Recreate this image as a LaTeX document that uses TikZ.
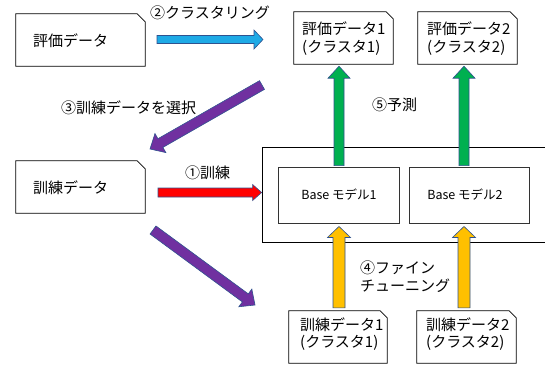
\documentclass[tikz,border=0pt]{standalone}
\usepackage{fontspec}
\setmainfont{Noto Sans CJK JP}
\usetikzlibrary{calc}
\definecolor{arrline}{HTML}{2F528F}
\definecolor{cblue}{RGB}{30,170,230}
\definecolor{cred}{HTML}{FF0000}
\definecolor{cpurple}{HTML}{7030A0}
\definecolor{cgreen}{HTML}{00B050}
\definecolor{cyellow}{HTML}{FFC000}
% #1 style, #2 shaft half width, #3 head half width, #4 head length, #5 from, #6 to
\newcommand{\bArrow}[6]{%
  \draw[#1] ($(#5)!#2!90:(#6)$)
    -- ($(#6)!#4!(#5)!#2!90:(#6)$)
    -- ($(#6)!#4!(#5)!#3!90:(#6)$)
    -- (#6)
    -- ($(#6)!#4!(#5)!#3!-90:(#6)$)
    -- ($(#6)!#4!(#5)!#2!-90:(#6)$)
    -- ($(#5)!#2!-90:(#6)$) -- cycle;}
% outline of a document box with a snipped top right corner: #1 node, #2 snip
\newcommand{\docOutline}[2]{%
  \draw[docline] (#1.south west) |- ($(#1.north east)+(-#2,0)$)
    -- ($(#1.north east)+(0,-#2)$) |- cycle;}
\begin{document}
\begin{tikzpicture}[x=1pt,y=-1pt,
  docbox/.style={rectangle, draw=none, inner sep=0pt},
  docline/.style={draw=black, line width=0.8pt, line join=miter},
  modelbox/.style={rectangle, draw=black!80, line width=0.9pt, inner sep=0pt},
  lbl/.style={inner sep=0pt, anchor=west, align=left,
    font=\fontsize{15pt}{17.5pt}\selectfont},
  basetxt/.style={inner sep=0pt, font=\fontsize{12.5pt}{14pt}\selectfont},
  blk/.style={draw=arrline, line width=0.6pt, line join=miter}]
\useasboundingbox (0,0) rectangle (545,365);

% document boxes
\node[docbox, minimum width=129pt, minimum height=52pt] (eval) at (80.5,40) {};
\node[docbox, minimum width=129pt, minimum height=52pt] (train) at (80.5,187) {};
\node[docbox, minimum width=99pt, minimum height=52pt] (eval1) at (343.5,38) {};
\node[docbox, minimum width=99pt, minimum height=52pt] (eval2) at (467.5,38) {};
\node[docbox, minimum width=98pt, minimum height=52pt] (train1) at (338,337) {};
\node[docbox, minimum width=99pt, minimum height=52pt] (train2) at (466.5,337) {};
\docOutline{eval}{8pt}
\docOutline{train}{8pt}
\docOutline{eval1}{7pt}
\docOutline{eval2}{7pt}
\docOutline{train1}{7pt}
\docOutline{train2}{7pt}

% model container and base models
\node[rectangle, draw=black, line width=0.8pt, minimum width=298pt, minimum height=95pt, inner sep=0pt] (model) at (411,194.5) {};
\node[modelbox, minimum width=121pt, minimum height=56pt] (base1) at (338.5,195) {};
\node[modelbox, minimum width=120pt, minimum height=56pt] (base2) at (469,195) {};

% texts
\node[lbl] (tEval) at (33,41) {評価データ};
\node[lbl] (tTrain) at (33,188) {訓練データ};
\node[lbl] (tEval1) at (302,38.5) {評価データ1\\(クラスタ1)};
\node[lbl] (tEval2) at (427,38.5) {評価データ2\\(クラスタ2)};
\node[lbl] (tTrain1) at (300,334) {訓練データ1\\(クラスタ1)};
\node[lbl] (tTrain2) at (426,334) {訓練データ2\\(クラスタ2)};
\node[basetxt] (tBase1) at (339,195) {Base モデル1};
\node[basetxt] (tBase2) at (465,195) {Base モデル2};

\node[lbl] (l2) at (150,13) {②クラスタリング};
\node[lbl] (l3) at (61,108) {③訓練データを選択};
\node[lbl] (l1) at (185,173) {①訓練};
\node[lbl] (l5) at (372,105) {⑤予測};
\node[lbl, font=\fontsize{15pt}{18pt}\selectfont] (l4) at (360,277) {④ファイン\\チューニング};

% arrow end points
\coordinate (bS) at (157,39.5);
\coordinate (bE) at (263,39.5);
\coordinate (rS) at (158,192.5);
\coordinate (rE) at (model.west |- rS);
\coordinate (p1S) at (262,85);
\coordinate (p1E) at (150,149);
\coordinate (p2S) at (153,230);
\coordinate (p2E) at (255,305);
\coordinate (g1S) at ($(base1.north)+(0.5,-1)$);
\coordinate (g1E) at ($(g1S |- eval1.south)+(0,2)$);
\coordinate (g2S) at ($(base2.north)+(-5,-1)$);
\coordinate (g2E) at ($(g2S |- eval2.south)+(0,2)$);
\coordinate (y1S) at ($(base1.south |- train1.north)+(0.5,-3)$);
\coordinate (y1E) at ($(base1.south)+(0.5,3)$);
\coordinate (y2S) at ($(base2.south |- train2.north)+(-5,-3)$);
\coordinate (y2E) at ($(base2.south)+(-5,3)$);

% block arrows
\bArrow{blk, fill=cblue}{4pt}{9.5pt}{9pt}{bS}{bE}
\bArrow{blk, fill=cred}{4.5pt}{8pt}{9pt}{rS}{rE}
\bArrow{blk, fill=cpurple}{5pt}{11pt}{12pt}{p1S}{p1E}
\bArrow{blk, fill=cpurple}{5pt}{11pt}{12pt}{p2S}{p2E}
\bArrow{blk, fill=cgreen}{5pt}{11pt}{12pt}{g1S}{g1E}
\bArrow{blk, fill=cgreen}{5pt}{11pt}{12pt}{g2S}{g2E}
\bArrow{blk, fill=cyellow}{6pt}{11.5pt}{11pt}{y1S}{y1E}
\bArrow{blk, fill=cyellow}{6pt}{11.5pt}{11pt}{y2S}{y2E}
\end{tikzpicture}
\end{document}
